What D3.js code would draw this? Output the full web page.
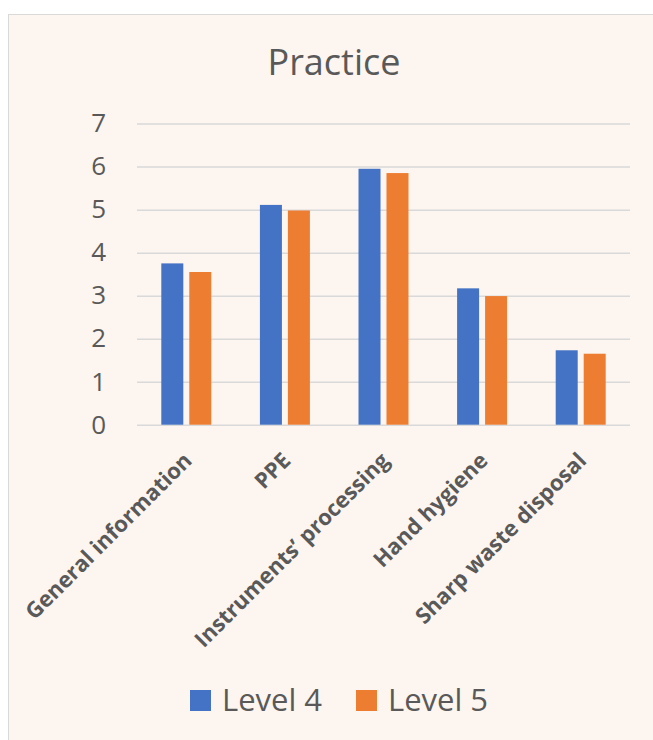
<!DOCTYPE html>
<html>
<head>
<meta charset="utf-8">
<script src="https://cdn.jsdelivr.net/npm/d3@7"></script>
<style>
  body { margin: 0; background: #ffffff; }
  text { font-family: "Open Sans", sans-serif; fill: #595959; }
</style>
</head>
<body>
<div id="chart"></div>
<script>
// Data
const categories = ["General information", "PPE", "Instruments\u2019 processing", "Hand hygiene", "Sharp waste disposal"];
const seriesNames = ["Level 4", "Level 5"];
const level4 = [3.75, 5.11, 5.95, 3.17, 1.73];
const level5 = [3.55, 4.98, 5.85, 2.99, 1.65];
const yTicks = [0, 1, 2, 3, 4, 5, 6, 7];
const colors = ["#4472C4", "#ED7D31"];

const W = 653, H = 740;
const plot = { left: 137, right: 630, top: 123.6, bottom: 424.7 };

const svg = d3.select("#chart")
  .append("svg")
  .attr("width", W)
  .attr("height", H);

// Chart area background + border
svg.append("rect")
  .attr("x", 8.5)
  .attr("y", 14.5)
  .attr("width", W + 10)
  .attr("height", H + 10)
  .attr("fill", "#fdf5ef")
  .attr("stroke", "#d9d9d9")
  .attr("stroke-width", 1);

// Title
svg.append("text")
  .attr("x", 334)
  .attr("y", 75)
  .attr("text-anchor", "middle")
  .attr("font-size", "36px")
  .text("Practice");

// Scales
const x0 = d3.scaleBand()
  .domain(categories)
  .range([plot.left, plot.right])
  .paddingInner(0.493)
  .paddingOuter(0.2465);

const x1 = d3.scaleBand()
  .domain(seriesNames)
  .range([0, x0.bandwidth()])
  .paddingInner(0.214);

const y = d3.scaleLinear()
  .domain([0, 7])
  .range([plot.bottom, plot.top]);

// Gridlines
const grid = svg.append("g")
  .attr("transform", `translate(${plot.left},0)`)
  .call(d3.axisLeft(y).tickValues(yTicks).tickSize(-(plot.right - plot.left)).tickFormat(""));
grid.select(".domain").remove();
grid.selectAll("line").attr("stroke", "#d9d9d9").attr("stroke-width", 1.5);

// Y labels
const yAxis = svg.append("g")
  .attr("transform", `translate(106,0)`)
  .call(d3.axisLeft(y).tickValues(yTicks).tickSize(0).tickPadding(0).tickFormat(d3.format("d")));
yAxis.select(".domain").remove();
yAxis.selectAll("text")
  .attr("font-size", "26px")
  .attr("fill", "#595959")
  .style("font-family", "'Open Sans', sans-serif");

// Bars
const rows = categories.map((c, i) => ({ cat: c, vals: [level4[i], level5[i]] }));
const groups = svg.selectAll(".grp")
  .data(rows)
  .enter()
  .append("g")
  .attr("class", "grp")
  .attr("transform", d => `translate(${x0(d.cat)},0)`);

groups.selectAll("rect")
  .data(d => d.vals.map((v, j) => ({ key: seriesNames[j], v: v, j: j })))
  .enter()
  .append("rect")
  .attr("x", d => x1(d.key))
  .attr("y", d => y(d.v))
  .attr("width", x1.bandwidth())
  .attr("height", d => y(0) - y(d.v))
  .attr("fill", d => colors[d.j]);

// X labels (rotated)
svg.selectAll(".xlab")
  .data(categories)
  .enter()
  .append("text")
  .attr("class", "xlab")
  .attr("transform", d => `translate(${x0(d) + x0.bandwidth() / 2 + 7},462) rotate(-45)`)
  .attr("text-anchor", "end")
  .attr("font-size", "22px")
  .attr("font-weight", "bold")
  .text(d => d);

// Legend
const legendX = [190, 356];
const legend = svg.selectAll(".leg")
  .data(seriesNames)
  .enter()
  .append("g")
  .attr("class", "leg")
  .attr("transform", (d, i) => `translate(${legendX[i]},690)`);

legend.append("rect")
  .attr("width", 21)
  .attr("height", 21)
  .attr("fill", (d, i) => colors[i]);

legend.append("text")
  .attr("x", 32)
  .attr("y", 21)
  .attr("font-size", "31px")
  .text(d => d);
</script>
</body>
</html>
